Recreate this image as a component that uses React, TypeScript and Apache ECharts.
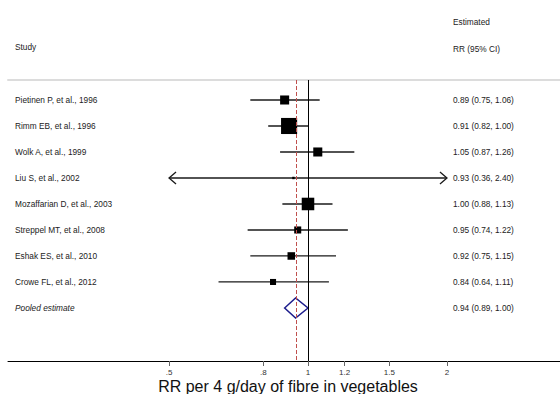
import React, { useEffect, useRef } from "react";
import * as echarts from "echarts";

// Cohort studies of vegetable fibre intake (RR per 4 g/day)
const studies = [
  "Pietinen P, et al., 1996",
  "Rimm EB, et al., 1996",
  "Wolk A, et al., 1999",
  "Liu S, et al., 2002",
  "Mozaffarian D, et al., 2003",
  "Streppel MT, et al., 2008",
  "Eshak ES, et al., 2010",
  "Crowe FL, et al., 2012",
  "Pooled estimate",
];
const rr = [0.89, 0.91, 1.05, 0.93, 1.0, 0.95, 0.92, 0.84, 0.94];
const lower = [0.75, 0.82, 0.87, 0.36, 0.88, 0.74, 0.75, 0.64, 0.89];
const upper = [1.06, 1.0, 1.26, 2.4, 1.13, 1.22, 1.15, 1.11, 1.0];
// study weights (%), box area is proportional to weight
const weights = [11.2, 35.5, 11.2, 0.8, 21.6, 6.8, 7.8, 5.0, 100];
const pooledIndex = 8;

const tickValues = [0.5, 0.8, 1, 1.2, 1.5, 2];
const tickLabels = [".5", ".8", "1", "1.2", "1.5", "2"];
const axisTitle = "RR per 4 g/day of fibre in vegetables";

const FONT = '"Liberation Sans", Arial, Helvetica, sans-serif';
const TEXT = "#222";
const SMALL = 8.3;

const lnMinShown = Math.log(tickValues[0]);
const lnMaxShown = Math.log(tickValues[tickValues.length - 1]);

export default function App() {
  const ref = useRef<HTMLDivElement>(null);

  useEffect(() => {
    document.body.style.margin = "0";
    if (!ref.current) return;
    const chart = echarts.init(ref.current, undefined, { renderer: "svg" });

    const rows = studies.map((_, i) => [
      i,
      Math.log(rr[i]),
      Math.log(lower[i]),
      Math.log(upper[i]),
      weights[i],
    ]);

    const fmt = (v: number) => v.toFixed(2);

    const renderItem = (params: any, api: any) => {
      const i = api.value(0) as number;
      const lnEst = api.value(1) as number;
      const lnLo = api.value(2) as number;
      const lnHi = api.value(3) as number;
      const w = api.value(4) as number;
      const y = api.coord([0, i])[1];
      const px = (v: number) => api.coord([v, i])[0];
      const children: any[] = [];

      children.push({
        type: "text",
        style: {
          text: studies[i],
          x: 15,
          y,
          verticalAlign: "middle",
          fontSize: SMALL,
          fontFamily: FONT,
          fontStyle: i === pooledIndex ? "italic" : "normal",
          fill: TEXT,
        },
      });
      children.push({
        type: "text",
        style: {
          text: `${fmt(rr[i])} (${fmt(lower[i])}, ${fmt(upper[i])})`,
          x: 453,
          y,
          verticalAlign: "middle",
          fontSize: SMALL,
          fontFamily: FONT,
          fill: TEXT,
        },
      });

      if (i === pooledIndex) {
        const xl = px(lnLo);
        const xm = px(lnEst);
        const xh = px(lnHi);
        children.push({
          type: "polygon",
          shape: { points: [[xl, y], [xm, y - 10], [xh, y], [xm, y + 10]] },
          style: { fill: "none", stroke: "#1c1c8c", lineWidth: 1.5 },
        });
      } else {
        const lo = Math.max(lnLo, lnMinShown);
        const hi = Math.min(lnHi, lnMaxShown);
        const xl = px(lo);
        const xh = px(hi);
        children.push({
          type: "line",
          shape: { x1: xl, y1: y, x2: xh, y2: y },
          style: { stroke: "#1a1a1a", lineWidth: 1.3 },
        });
        if (lnLo < lnMinShown) {
          children.push({
            type: "polyline",
            shape: { points: [[xl + 7, y - 6], [xl, y], [xl + 7, y + 6]] },
            style: { stroke: "#1a1a1a", lineWidth: 1.3, fill: "none" },
          });
        }
        if (lnHi > lnMaxShown) {
          children.push({
            type: "polyline",
            shape: { points: [[xh - 7, y - 6], [xh, y], [xh - 7, y + 6]] },
            style: { stroke: "#1a1a1a", lineWidth: 1.3, fill: "none" },
          });
        }
        const side = 27 * Math.sqrt(w / 100);
        const xm = px(lnEst);
        children.push({
          type: "rect",
          shape: { x: xm - side / 2, y: y - side / 2, width: side, height: side },
          style: { fill: "#000" },
        });
      }
      return { type: "group", children };
    };

    const xMin = -1.4963;
    const xMax = 1.2569;

    chart.setOption({
      animation: false,
      grid: { left: 8, right: 0, top: 80, bottom: 33, outerBoundsMode: "none", containLabel: false },
      xAxis: [
        {
          type: "value",
          min: xMin,
          max: xMax,
          position: "bottom",
          axisLine: { onZero: false, lineStyle: { color: "#000", width: 1 } },
          axisTick: {
            show: true,
            length: 5,
            customValues: tickValues.map(Math.log),
            lineStyle: { color: "#666", width: 1 },
          },
          axisLabel: {
            customValues: tickValues.map(Math.log),
            formatter: (v: number) => {
              let best = 0;
              tickValues.forEach((t, k) => {
                if (Math.abs(Math.log(t) - v) < Math.abs(Math.log(tickValues[best]) - v)) best = k;
              });
              return tickLabels[best];
            },
            fontSize: 8,
            fontFamily: FONT,
            color: "#333",
            margin: 7,
          },
          splitLine: { show: false },
        },
        {
          type: "value",
          min: xMin,
          max: xMax,
          position: "top",
          axisLine: { show: true, onZero: false, lineStyle: { color: "#dcdcdc", width: 2 } },
          axisTick: { show: false },
          axisLabel: { show: false },
          splitLine: { show: false },
        },
      ],
      yAxis: {
        type: "value",
        inverse: true,
        min: -0.769,
        max: 10.04,
        show: false,
      },
      graphic: [
        {
          type: "text",
          x: 15,
          y: 47,
          style: { text: "Study", fontSize: SMALL, fontFamily: FONT, fill: TEXT, verticalAlign: "middle" },
        },
        {
          type: "text",
          x: 453,
          y: 21.5,
          style: { text: "Estimated", fontSize: SMALL, fontFamily: FONT, fill: TEXT, verticalAlign: "middle" },
        },
        {
          type: "text",
          x: 453,
          y: 48.5,
          style: { text: "RR (95% CI)", fontSize: SMALL, fontFamily: FONT, fill: TEXT, verticalAlign: "middle" },
        },
        {
          type: "text",
          x: 288,
          y: 386,
          style: {
            text: axisTitle,
            fontSize: 16,
            fontFamily: FONT,
            fill: "#111",
            align: "center",
            verticalAlign: "middle",
          },
        },
      ],
      series: [
        {
          type: "line",
          data: [],
          z: 1,
          markLine: {
            silent: true,
            symbol: ["none", "none"],
            label: { show: false },
            data: [
              { xAxis: 0, lineStyle: { color: "#000", width: 1, type: "solid" } },
              {
                xAxis: Math.log(rr[pooledIndex]),
                lineStyle: { color: "#c0504d", width: 1, type: [4, 2] },
              },
            ],
          },
        },
        {
          type: "custom",
          z: 2,
          clip: false,
          renderItem,
          encode: { x: 1, y: 0 },
          data: rows,
        },
      ],
    });

    return () => chart.dispose();
  }, []);

  return <div ref={ref} style={{ width: 560, height: 394 }} />;
}
